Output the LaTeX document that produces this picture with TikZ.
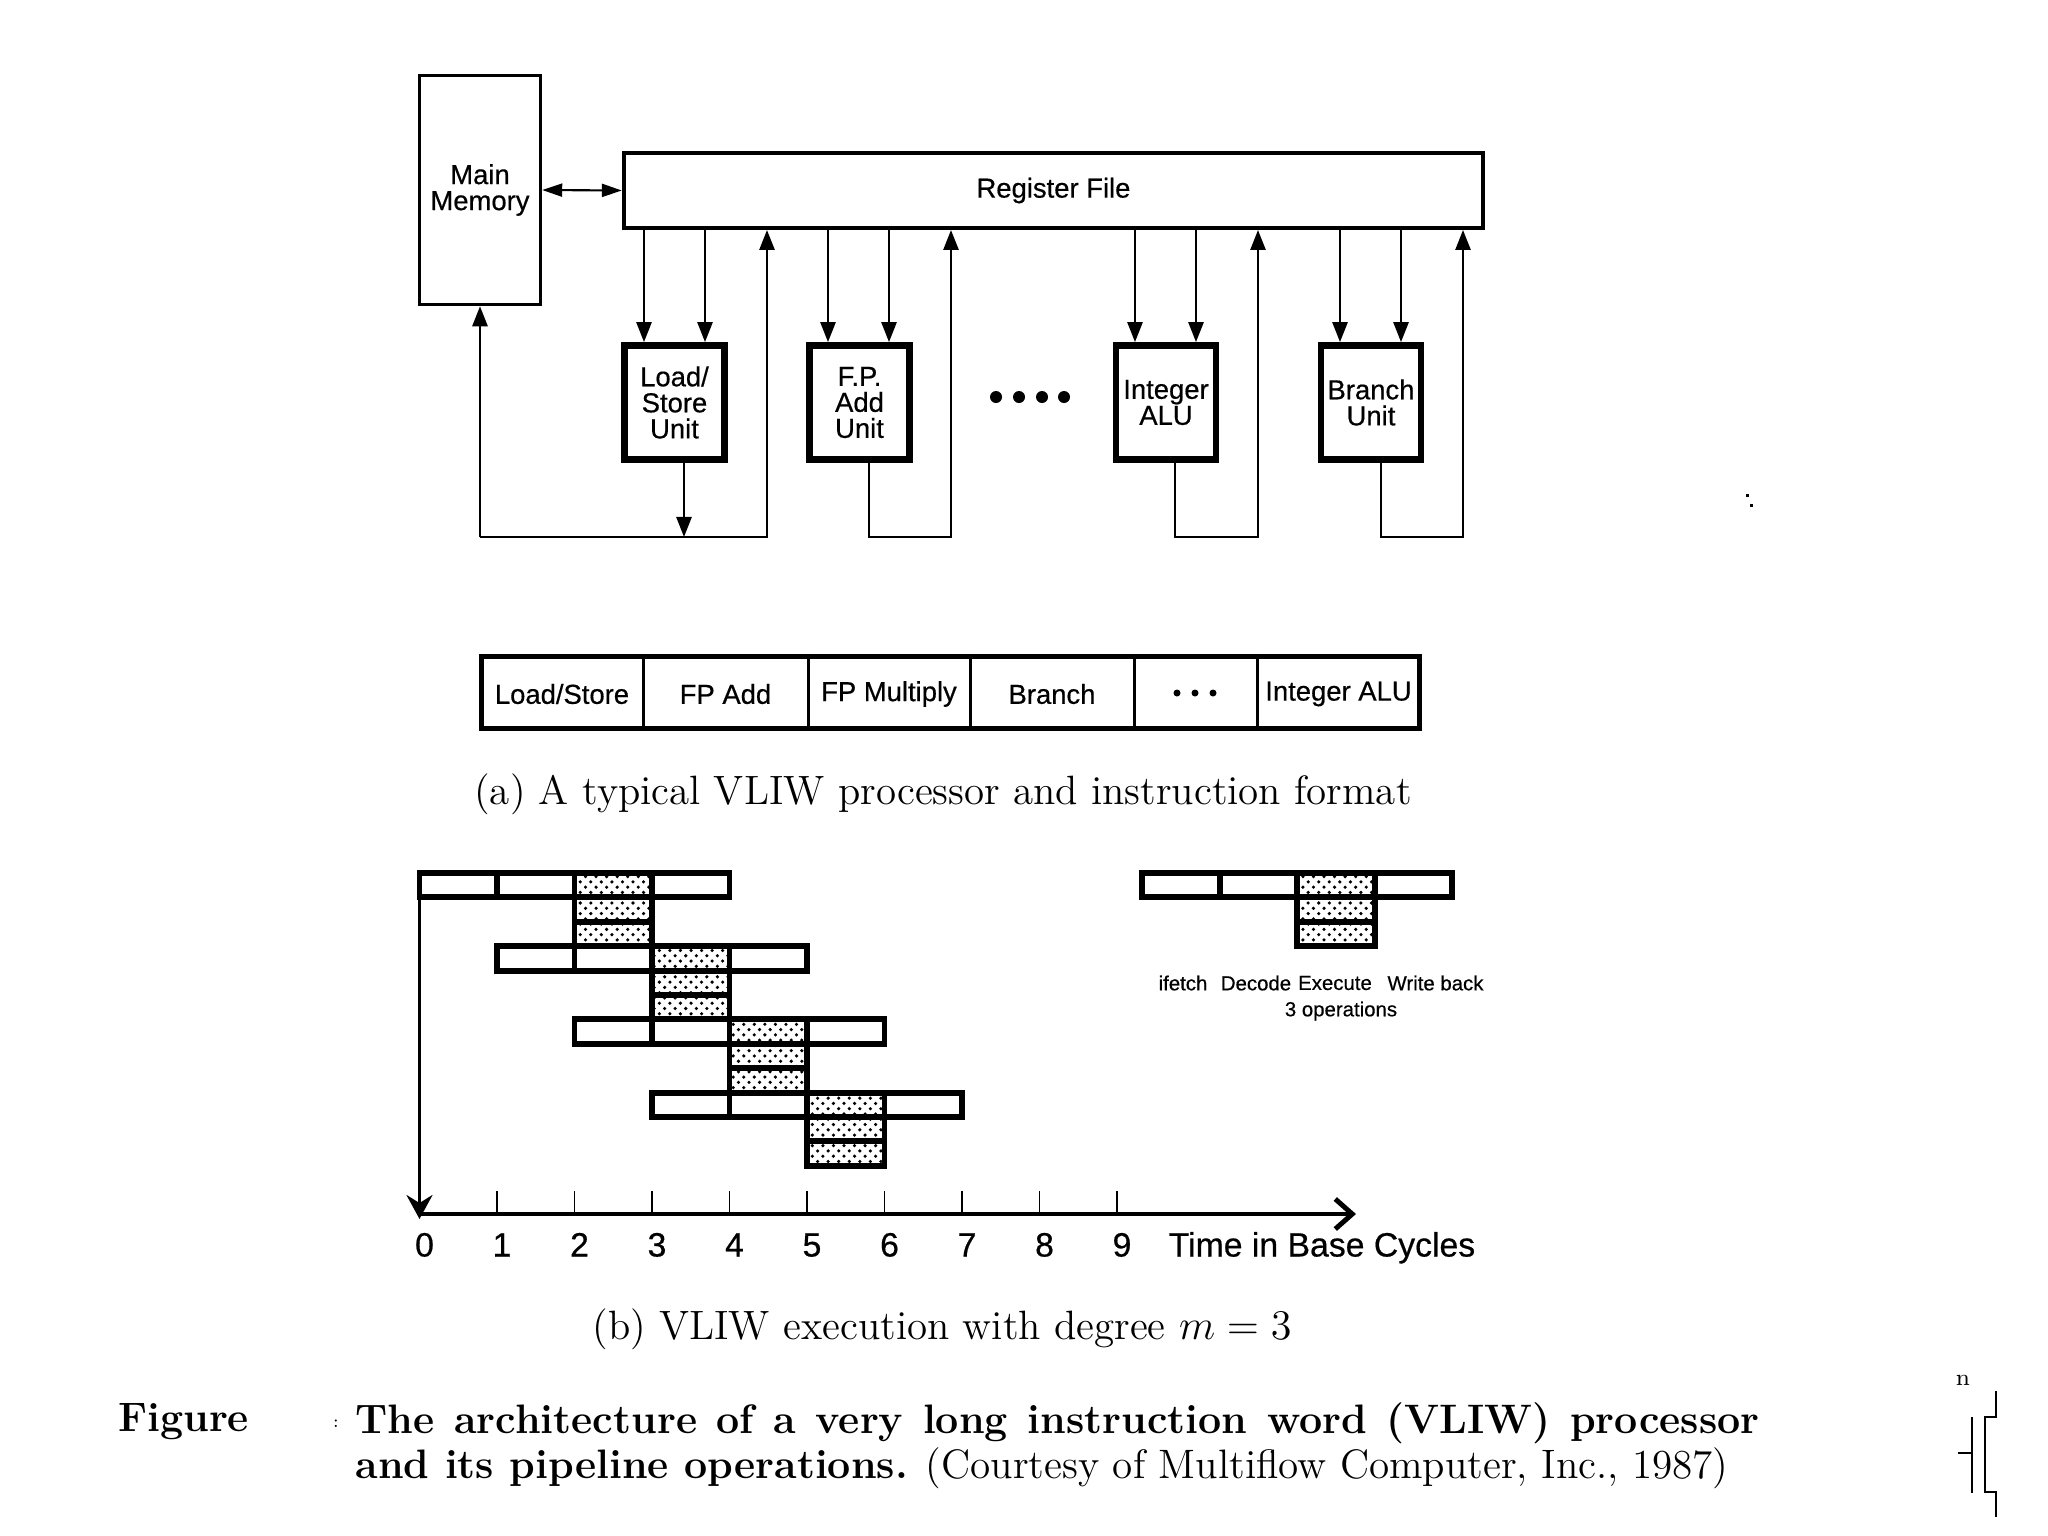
\documentclass[tikz,border=0pt]{standalone}
\usepackage{fontspec}
\newfontfamily\hv[FakeBold=0.5]{Liberation Sans}
\usetikzlibrary{arrows.meta,patterns}
\begin{document}
\begin{tikzpicture}[x=0.01cm,y=-0.01cm,
  lbl/.style={font=\hv\fontsize{7.8}{7.4}\selectfont, align=center, inner sep=0pt},
  unitbox/.style={draw, line width=1.9pt, minimum width=1.00cm, minimum height=1.14cm, lbl},
  conn/.style={line width=0.75pt},
  arr/.style={conn, -{Triangle[length=0.2cm,width=0.15cm]}},
  cell/.style={font=\hv\fontsize{7.8}{9}\selectfont, inner sep=0pt},
  bar/.style={line width=1.7pt},
  shade/.style={pattern=crosshatch dots},
  tick/.style={line width=0.5pt},
  num/.style={font=\hv\fontsize{9.6}{10}\selectfont, anchor=base, inner sep=0pt},
  leg/.style={font=\hv\fontsize{5.8}{6.5}\selectfont, inner sep=0pt},
  capt/.style={font=\fontsize{11.65}{13}\selectfont, anchor=base, inner sep=0pt},
  figc/.style={font=\fontsize{11.7}{13.5}\selectfont, anchor=base west, inner sep=0pt},
]
\useasboundingbox (0,0) rectangle (2048,1536);

% ---------- (a) processor ----------
\node[draw, line width=0.95pt, minimum width=1.21cm, minimum height=2.29cm, lbl] (mem) at (480,190) {Main\\Memory};
\node[draw, line width=1.1pt, minimum width=8.59cm, minimum height=0.75cm, lbl] (rf) at (1053.5,190.5) {Register File};
\node[unitbox] (ls) at (674.5,402.5) {Load/\\Store\\Unit};
\node[unitbox] (fp) at (859.5,402.5) {F.P.\\Add\\Unit};
\node[unitbox] (alu) at (1166,402.5) {Integer\\ALU};
\node[unitbox] (br) at (1371,402.5) {Branch\\Unit};

\draw[conn, line width=0.6pt, {Triangle[length=0.2cm,width=0.13cm]}-{Triangle[length=0.2cm,width=0.13cm]}] (mem.east) -- (rf.west);

% register file -> units
\foreach \x in {644,705} \draw[arr] (\x,0 |- rf.south) -- (\x,0 |- ls.north);
\foreach \x in {828,889} \draw[arr] (\x,0 |- rf.south) -- (\x,0 |- fp.north);
\foreach \x in {1135,1196} \draw[arr] (\x,0 |- rf.south) -- (\x,0 |- alu.north);
\foreach \x in {1340,1401} \draw[arr] (\x,0 |- rf.south) -- (\x,0 |- br.north);

% results back
\coordinate (bus) at (0,537);
\draw[arr] (mem.south |- bus) -- (mem.south);
\draw[arr] (mem.south |- bus) -- (767,537) -- (767,0 |- rf.south);
\draw[arr] (684,0 |- ls.south) -- (684,537);
\draw[arr] (869,0 |- fp.south) -- (869,537) -- (951,537) -- (951,0 |- rf.south);
\draw[arr] (1175,0 |- alu.south) -- (1175,537) -- (1258,537) -- (1258,0 |- rf.south);
\draw[arr] (1381,0 |- br.south) -- (1381,537) -- (1463,537) -- (1463,0 |- rf.south);

\foreach \x in {996,1019,1042,1064} \fill (\x,397) circle[radius=0.06cm];

% instruction format
\node[draw, line width=1.5pt, minimum width=9.38cm, minimum height=0.72cm, inner sep=0pt] (fmt) at (950.5,692.5) {};
\foreach \x in {643,808,970,1134,1257} \draw[line width=0.85pt] (\x,0 |- fmt.north) -- (\x,0 |- fmt.south);
\node[cell] (c1) at (562,694) {Load/Store};
\node[cell] (c2) at (725.5,694) {FP Add};
\node[cell] (c3) at (889,694) {FP Multiply};
\node[cell] (c4) at (1052,694) {Branch};
\foreach \x in {1177,1195,1213} \fill (\x,693) circle[radius=0.035cm];
\node[cell] (c6) at (1338.5,694) {Integer ALU};

\node[capt] (capa) at (943,804.5) {(a) A typical VLIW processor and instruction format};

% ---------- (b) pipeline ----------
\def\xo{419.5}
\def\u{77.5}
\def\rt{873}
\def\rh{24.4}
\foreach \i in {0,1,2,3}{
  \pgfmathsetmacro\yt{\rt+3*\i*\rh}
  \pgfmathsetmacro\xa{\xo+\i*\u}
  \pgfmathsetmacro\xe{\xo+(\i+2)*\u}
  \fill[shade] (\xe,\yt) rectangle ++(\u,3*\rh);
  \draw[bar] (\xa,\yt) rectangle ++(4*\u,\rh);
  \foreach \s in {1,2,3} \draw[bar] (\xa+\s*\u,\yt) -- ++(0,\rh);
  \draw[bar] (\xe,\yt) rectangle ++(\u,3*\rh);
  \draw[bar] (\xe,\yt+2*\rh) -- ++(\u,0);
}
% legend
\def\xl{1142}
\fill[shade] (\xl+2*\u,\rt) rectangle ++(\u,3*\rh);
\draw[bar] (\xl,\rt) rectangle ++(4*\u,\rh);
\foreach \s in {1,2,3} \draw[bar] (\xl+\s*\u,\rt) -- ++(0,\rh);
\draw[bar] (\xl+2*\u,\rt) rectangle ++(\u,3*\rh);
\draw[bar] (\xl+2*\u,\rt+2*\rh) -- ++(\u,0);
\node[leg] (l1) at (1183,983) {ifetch};
\node[leg] (l2) at (1256,983) {Decode};
\node[leg] (l3) at (1335,983) {Execute};
\node[leg] (l4) at (1435.5,983) {Write back};
\node[leg] (l5) at (1341,1011) {3 operations};

% axes
\coordinate (O) at (\xo,1214);
\coordinate (vtop) at (\xo,\rt);
\coordinate (vend) at (\xo,1219);
\coordinate (hend) at (1356,1214);
\draw[line width=1.4pt, -{Straight Barb[length=0.17cm,width=0.3cm]}] (O) -- (hend);
\draw[line width=0.9pt, -{Stealth[length=0.24cm,width=0.26cm,inset=0.08cm]}] (vtop) -- (vend);
\foreach \k in {1,...,9} \draw[tick] (\xo+\k*\u,1214) -- ++(0,-23);
\foreach \k in {0,...,9} \node[num] (n\k) at (\xo+\k*\u+5,1256.5) {\k};
\node[num] (tl) at (1322,1256.5) {Time in Base Cycles};

\node[capt] (capb) at (942,1339) {(b) VLIW execution with degree $m=3$};

% ---------- figure caption ----------
\node[figc] (fig) at (117.5,1431.5) {\bfseries Figure};
\node[font=\fontsize{5}{6}\selectfont, inner sep=0pt] (mk) at (336,1424) {:};
\node[figc] (cl1) at (355,1433) {\makebox[14.03cm][s]{\bfseries The architecture of a very long instruction word (VLIW) processor}};
\node[figc] (cl2) at (355,1478.5) {{\bfseries and its pipeline operations.} (Courtesy of Multiflow Computer, Inc., 1987)};

% stray marks
\fill (1746,494) rectangle (1749,497);
\fill (1750,504) rectangle (1753,507);
\node[font=\fontsize{6.6}{7}\selectfont, inner sep=0pt] (nn) at (1963,1380) {n};
\draw[line width=0.5pt] (1972,1417) -- (1972,1493);
\draw[line width=0.5pt] (1958,1453) -- (1972,1453);
\draw[line width=0.5pt] (1996,1391) -- (1996,1417) -- (1985,1417) -- (1985,1492) -- (1996,1492) -- (1996,1517);
\end{tikzpicture}
\end{document}
